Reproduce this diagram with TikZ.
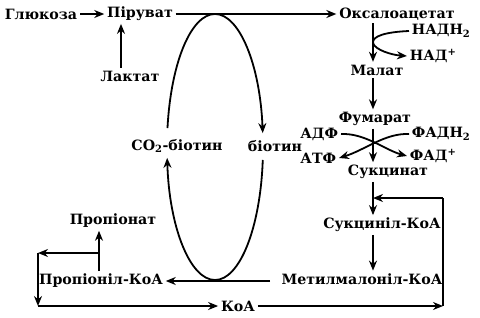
\documentclass[tikz,border=0pt]{standalone}
\usepackage{fontspec}
\setmainfont{DejaVu Serif}
\usetikzlibrary{arrows.meta}
\begin{document}
\begin{tikzpicture}[x=1pt, y=-1pt, line width=1.8pt,
    every node/.style={font=\fontsize{14.2}{16}\selectfont\bfseries, inner sep=2pt},
    flow/.style={-{Stealth[length=10pt,width=8pt]}}]
    \useasboundingbox (0,0) rectangle (480,317);
    % metabolites
    \node (gluc) at (41,14) {Глюкоза};
    \node (pyr) at (140,14) {Піруват};
    \node (lac) at (130,76) {Лактат};
    \node (oxa) at (397,14) {Оксалоацетат};
    \node[anchor=west] (nadh) at (409,31) {НАДН\textsubscript{2}};
    \node[anchor=west] (nad) at (407,56) {НАД\textsuperscript{+}};
    \node (mal) at (377,70) {Малат};
    \node (fum) at (375,119) {Фумарат};
    \node[anchor=east] (adp) at (341,134) {АДФ};
    \node[anchor=west] (fadh) at (409,134) {ФАДН\textsubscript{2}};
    \node[anchor=east] (atp) at (339,158) {АТФ};
    \node[anchor=west] (fad) at (407,156) {ФАД\textsuperscript{+}};
    \node (suc) at (388,172) {Сукцинат};
    \node (sucoa) at (382,225) {Сукциніл-КоА};
    \node (mmcoa) at (362,279) {Метилмалоніл-КоА};
    \node (prcoa) at (101,281) {Пропіоніл-КоА};
    \node (prop) at (113,221) {Пропіонат};
    \node (coa) at (238,306) {КоА};
    \node (co2) at (177,146) {CO\textsubscript{2}-біотин};
    \node (bio) at (275,146) {біотин};
    % helper coordinates
    \coordinate (colx) at (373,0);
    \coordinate (lacx) at (121,0);
    \coordinate (px) at (99,0);
    \coordinate (cyc) at (215,147);
    \coordinate (brl) at (99,253);
    \coordinate (bl) at (38,253);
    \coordinate (bl2) at (38,306);
    \coordinate (br2) at (443,306);
    \coordinate (tr2) at (443,198);
    \coordinate (mmx) at (270,281);
    % top row
    \draw[flow] (gluc) -- (pyr);
    \draw[flow] (lac.north -| lacx) -- (pyr.south -| lacx);
    \draw[flow] (pyr.east) -- (oxa.west);
    % right column
    \draw[flow] (oxa.south -| colx) -- (mal.north -| colx);
    \draw[flow] (nadh.west) .. controls (386,32) and (372,36) .. (373,43)
        .. controls (375,50) and (392,55) .. (nad.west);
    \draw[flow] (mal.south -| colx) -- (fum.north -| colx);
    \draw[flow] (fum.south -| colx) -- (suc.north -| colx);
    \draw[flow] (adp.east) .. controls (365,133) and (385,150) .. (fad.west);
    \draw[flow] (fadh.west) .. controls (385,133) and (365,150) .. (atp.east);
    \draw[flow] (suc.south -| colx) -- (sucoa.north -| colx);
    \draw[flow] (sucoa.south -| colx) -- (mmcoa.north -| colx);
    \draw[flow] (mmx) -- (mmx -| prcoa.east);
    % biotin cycle
    \draw[flow] ([shift={(90:48 and 133)}]cyc) arc[start angle=90, end angle=175.3, x radius=48, y radius=133];
    \draw ([shift={(188.2:48 and 133)}]cyc) arc[start angle=188.2, end angle=270, x radius=48, y radius=133];
    \draw[flow] ([shift={(270:48 and 133)}]cyc) arc[start angle=270, end angle=354, x radius=48, y radius=133];
    \draw ([shift={(5.6:48 and 133)}]cyc) arc[start angle=5.6, end angle=90, x radius=48, y radius=133];
    % propionate branch
    \draw[flow] (prcoa.north -| px) -- (prop.south -| px);
    \draw[flow] (brl) -- (bl);
    \draw[flow] (bl) -- (bl2);
    \draw[flow] (bl2) -- (coa.west);
    \draw[flow] (coa.east) -- (br2);
    \draw (br2) -- (tr2);
    \draw[flow] (tr2) -- (tr2 -| colx);
\end{tikzpicture}
\end{document}
